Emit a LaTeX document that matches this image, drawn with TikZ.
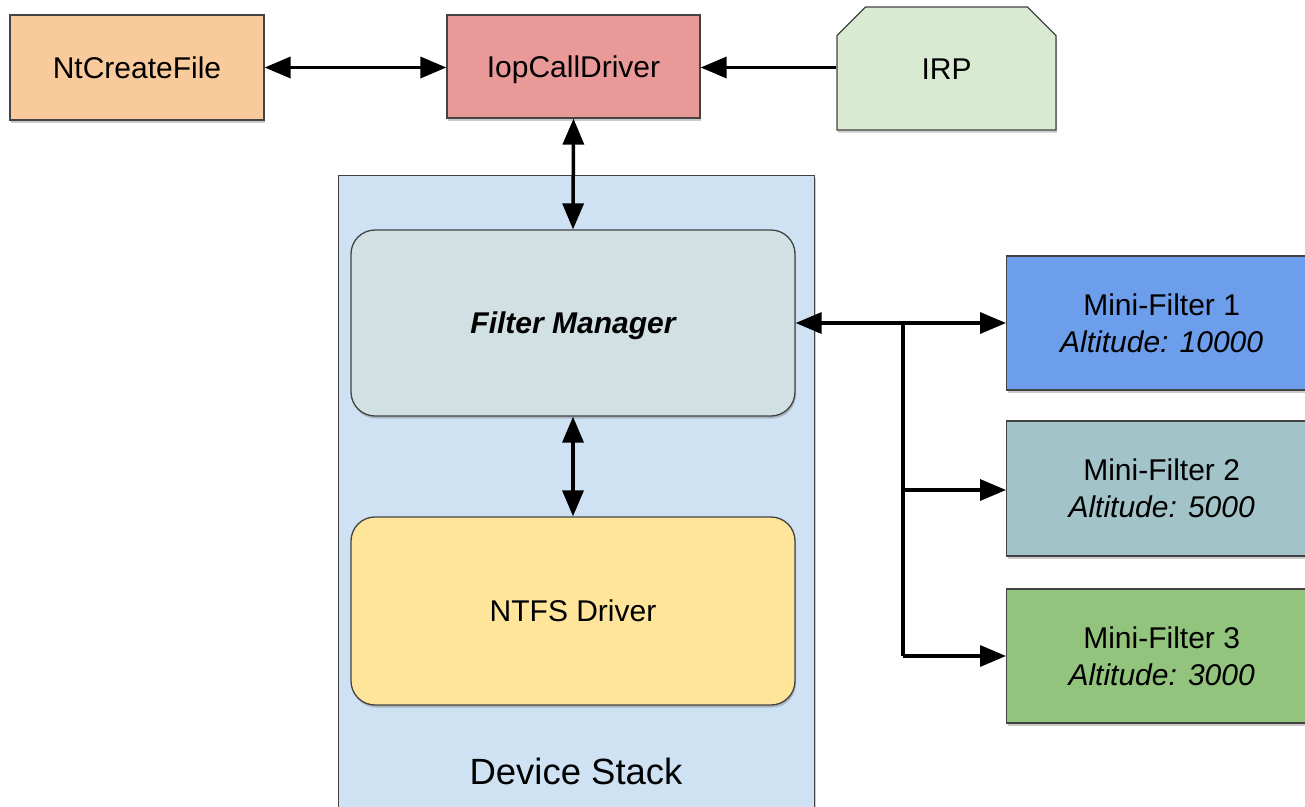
\documentclass[tikz,border=0pt]{standalone}
\usepackage{fontspec}
\setmainfont{Liberation Sans}
\usetikzlibrary{arrows.meta,shapes.misc,shadows}
\definecolor{cNt}{HTML}{F9CB9C}
\definecolor{cIop}{HTML}{EA9999}
\definecolor{cIrp}{HTML}{D9EAD3}
\definecolor{cStack}{HTML}{CFE2F3}
\definecolor{cFM}{HTML}{D0E0E3}
\definecolor{cNtfs}{HTML}{FFE599}
\definecolor{cMF1}{HTML}{6D9EEB}
\definecolor{cMF2}{HTML}{A2C4C9}
\definecolor{cMF3}{HTML}{93C47D}
\definecolor{cBorder}{HTML}{434343}
\tikzset{
  shad/.style={drop shadow={shadow xshift=1pt,shadow yshift=-2.5pt,opacity=0.35,fill=black!60}},
  box/.style={draw=cBorder,line width=1.3pt,shad,font=\fontsize{30}{37}\selectfont,align=center,inner sep=0pt},
  oneline/.style={text height=21pt,text depth=-3pt},
  rbox/.style={box,rounded corners=24pt},
  conn/.style={line width=3.5pt,{Triangle[length=26pt,width=21pt]}-{Triangle[length=26pt,width=21pt]}},
  conn1/.style={line width=3.5pt,-{Triangle[length=26pt,width=21pt]}},
  plain/.style={line width=3.5pt},
}
\begin{document}
\begin{tikzpicture}[x=1pt,y=-1pt]
\useasboundingbox (0,0) rectangle (1305,806);
% device stack
\node[box,fill=cStack,minimum width=476pt,minimum height=650pt,anchor=north west] (stack) at (338,175) {};
\node[font=\fontsize{36.5}{42}\selectfont] (stacklbl) at (576,771) {Device Stack};
% top row
\node[box,oneline,fill=cNt,minimum width=254pt,minimum height=105pt] (nt) at (137,67.5) {NtCreateFile};
\node[box,oneline,fill=cIop,minimum width=253pt,minimum height=103pt] (iop) at (573.5,66.5) {IopCallDriver};
\node[box,oneline,fill=cIrp,chamfered rectangle,chamfered rectangle corners={north west,north east},chamfered rectangle xsep=18pt,chamfered rectangle ysep=18pt,minimum width=219pt,minimum height=123pt] (irp) at (946.5,68.5) {IRP};
% inner boxes
\node[rbox,oneline,fill=cFM,minimum width=444pt,minimum height=186pt,font=\fontsize{30}{37}\selectfont\bfseries\itshape] (fm) at (573,323) {Filter Manager};
\node[rbox,oneline,fill=cNtfs,minimum width=444pt,minimum height=188pt] (ntfs) at (573,611) {NTFS Driver};
% mini filters
\node[box,fill=cMF1,minimum width=310pt,minimum height=134pt,anchor=west] (mf1) at (1006,323) {Mini-Filter 1\\\textit{Altitude: 10000}};
\node[box,fill=cMF2,minimum width=310pt,minimum height=135pt,anchor=west] (mf2) at (1006,488.5) {Mini-Filter 2\\\textit{Altitude: 5000}};
\node[box,fill=cMF3,minimum width=310pt,minimum height=134pt,anchor=west] (mf3) at (1006,656) {Mini-Filter 3\\\textit{Altitude: 3000}};
% connectors
\draw[conn] (nt.east) -- (iop.west |- nt.east);
\draw[conn1] (irp.west |- nt.east) -- (iop.east |- nt.east);
\draw[conn] (iop.south) -- (fm.north);
\draw[conn] (fm.south) -- (ntfs.north);
\coordinate (j1) at (903,322);
\coordinate (j2) at (903,490);
\coordinate (j3) at (903,656);
\draw[conn] (fm.east) -- (mf1.west);
\draw[plain] (j1) -- (j3);
\draw[conn1] (j2) -- (mf2.west |- j2);
\draw[conn1] (j3) -- (mf3.west |- j3);
\end{tikzpicture}
\end{document}
